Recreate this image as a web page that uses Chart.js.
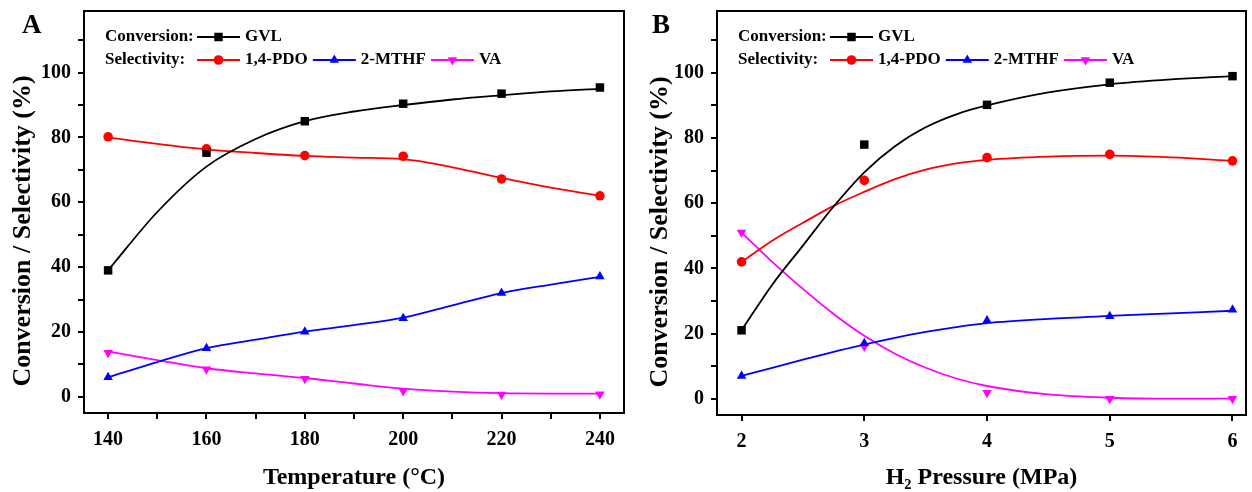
<!DOCTYPE html>
<html>
<head>
<meta charset="utf-8">
<script src="https://cdn.jsdelivr.net/npm/chart.js@4.4.1/dist/chart.umd.min.js"></script>
<style>
  html, body { margin: 0; padding: 0; background: #fff; }
  #wrap { position: relative; width: 1252px; height: 492px; }
  .panel { position: absolute; top: 0; height: 492px; }
  #panelA { left: 0; width: 630px; }
  #panelB { left: 630px; width: 622px; }
</style>
</head>
<body>
<div id="wrap">
  <div class="panel" id="panelA"><canvas id="chartA"></canvas></div>
  <div class="panel" id="panelB"><canvas id="chartB"></canvas></div>
</div>
<script>
// --- series names (same order in both panels) ---
const seriesNames = ['GVL', '1,4-PDO', '2-MTHF', 'VA'];
const yTitle = 'Conversion / Selectivity (%)';

// --- panel A: temperature ---
const tempA = [140, 160, 180, 200, 220, 240];
const gvlA  = [39, 75.3, 85, 90.4, 93.5, 95.4];
const pdoA  = [80.2, 76.5, 74.4, 74.2, 67.2, 62];
const mthfA = [6, 15, 20.1, 24.2, 32, 37.1];
const vaA   = [13.6, 8.5, 5.6, 1.8, 0.7, 0.8];
// smoothed curves
const tempFitA = [140, 150, 160, 170, 180, 190, 200, 210, 220, 230, 240];
const gvlFitA  = [39, 57, 71, 79.5, 85, 88, 90, 91.7, 93, 94.2, 95];
const pdoFitA  = [80, 78, 76.3, 75.2, 74.3, 73.8, 73.3, 70.8, 67.5, 64.5, 62];
const mthfFitA = [6, 10.7, 15, 17.6, 20.1, 22.1, 24.4, 28.2, 32, 34.6, 37];
const vaFitA   = [14, 11.3, 8.8, 7.2, 5.8, 4.1, 2.5, 1.6, 1.1, 1, 1];
const tempTicks = [140, 150, 160, 170, 180, 190, 200, 210, 220, 230, 240];
const tempLabels = [140, 160, 180, 200, 220, 240];

// --- panel B: H2 pressure ---
const pressB = [2, 3, 4, 5, 6];
const gvlB  = [21, 78, 90.2, 97, 99];
const pdoB  = [42, 67, 74, 75, 73];
const mthfB = [7, 17, 24, 25.3, 27.3];
const vaB   = [51, 16, 1.8, 0, 0];
const pressFitB = [2, 2.25, 2.5, 2.75, 3, 3.25, 3.5, 3.75, 4, 4.5, 5, 5.5, 6];
const gvlFitB  = [21, 35, 47, 59, 69.5, 77.5, 83.3, 87.3, 90, 94, 96.5, 98, 99];
const pdoFitB  = [42, 48.5, 54, 59.2, 63.5, 67.4, 70.3, 72.2, 73.3, 74.3, 74.6, 74.1, 73];
const mthfFitB = [7, 9.5, 12, 14.4, 16.6, 18.7, 20.5, 22, 23.2, 24.5, 25.4, 26.2, 27];
const vaFitB   = [51, 42, 33.7, 26, 19.3, 13.8, 9.5, 6.2, 3.9, 1.3, 0.3, 0, 0];
const pressTicks = [2, 3, 4, 5, 6];

// --- y axis (shared) ---
const yTicks  = [0, 10, 20, 30, 40, 50, 60, 70, 80, 90, 100, 110];
const yLabels = [0, 20, 40, 60, 80, 100];

// --- styles ---
const SERIF = '"Liberation Serif", "Times New Roman", Times, serif';
const COLORS = ['#000000', '#ff0000', '#0000ff', '#ff00ff'];
const MARKERS = ['rect', 'circle', 'triangle', 'triangle'];
const MARKER_ROT = [0, 0, 0, 180];
const MARKER_R = [6, 4.8, 5.5, 5.5];

function drawMarker(ctx, i, x, y) {
     const r = MARKER_R[i];
     ctx.fillStyle = COLORS[i];
     ctx.beginPath();
     if (MARKERS[i] === 'rect') {
          const s = r * Math.SQRT1_2;
          ctx.rect(x - s, y - s, 2 * s, 2 * s);
     } else if (MARKERS[i] === 'circle') {
          ctx.arc(x, y, r, 0, Math.PI * 2);
     } else {
          let rad = MARKER_ROT[i] * Math.PI / 180;
          for (let k = 0; k < 3; k++) {
               const px = x + Math.sin(rad) * r, py = y - Math.cos(rad) * r;
               if (k === 0) ctx.moveTo(px, py); else ctx.lineTo(px, py);
               rad += Math.PI * 2 / 3;
          }
          ctx.closePath();
     }
     ctx.fill();
}

// frame, in-plot legend, y title and panel letter
const decorPlugin = {
     id: 'decor',
     beforeDatasetsDraw(chart) {
          const { ctx, chartArea: a } = chart;
          ctx.save();
          ctx.strokeStyle = '#000';
          ctx.lineWidth = 2;
          ctx.strokeRect(a.left, a.top, a.right - a.left, a.bottom - a.top);
          ctx.restore();
     },
     afterDraw(chart) {
          const { ctx, chartArea: a } = chart;
          const o = chart.options.plugins.decor;
          ctx.save();
          ctx.textBaseline = 'middle';
          ctx.font = 'bold 17px ' + SERIF;
          const x0 = a.left + 21;
          const rows = [
               { label: 'Conversion:', items: [0], y: a.top + 26 },
               { label: 'Selectivity:', items: [1, 2, 3], y: a.top + 49 }
          ];
          rows.forEach(row => {
               ctx.fillStyle = '#000';
               ctx.fillText(row.label, x0, row.y);
               let x = x0 + 92;
               row.items.forEach(i => {
                    ctx.strokeStyle = COLORS[i];
                    ctx.lineWidth = 2;
                    ctx.beginPath();
                    ctx.moveTo(x, row.y);
                    ctx.lineTo(x + 43, row.y);
                    ctx.stroke();
                    drawMarker(ctx, i, x + 21.5, row.y);
                    ctx.fillStyle = '#000';
                    ctx.fillText(seriesNames[i], x + 48, row.y);
                    x += 48 + ctx.measureText(seriesNames[i]).width + 5;
               });
          });
          // panel letter
          ctx.font = 'bold 27px ' + SERIF;
          ctx.fillStyle = '#000';
          ctx.fillText(o.letter, 22, 26);
          // y axis title, a bit below the axis centre as in the figure
          ctx.translate(o.yTitleX, (a.top + a.bottom) / 2 + 19);
          ctx.rotate(-Math.PI / 2);
          ctx.textAlign = 'center';
          ctx.font = 'bold 26px ' + SERIF;
          ctx.fillText(yTitle, 0, 0);
          ctx.restore();
     }
};

function buildChart(canvasId, cfg) {
     const tickFont = { family: SERIF, size: 20, weight: 'bold' };
     const datasets = [];
     cfg.fits.forEach((fit, i) => {
          datasets.push({
               data: cfg.fitX.map((x, k) => ({ x: x, y: fit[k] })),
               showLine: true,
               borderColor: COLORS[i],
               borderWidth: 1.8,
               pointRadius: 0,
               cubicInterpolationMode: 'monotone',
               fill: false
          });
     });
     cfg.points.forEach((pts, i) => {
          datasets.push({
               data: cfg.x.map((x, k) => ({ x: x, y: pts[k] })),
               showLine: false,
               pointStyle: MARKERS[i],
               rotation: MARKER_ROT[i],
               pointRadius: MARKER_R[i],
               backgroundColor: COLORS[i],
               borderColor: COLORS[i],
               borderWidth: 0
          });
     });

     const gridOpts = { drawOnChartArea: false, drawTicks: true, tickLength: 6, color: '#000', lineWidth: 2 };
     const borderOpts = { display: true, color: '#000', width: 2 };

     return new Chart(document.getElementById(canvasId), {
          type: 'scatter',
          data: { datasets: datasets },
          options: {
               responsive: true,
               maintainAspectRatio: false,
               animation: false,
               layout: { padding: { top: 11, right: cfg.padRight, left: 0, bottom: 0 } },
               plugins: {
                    legend: { display: false },
                    tooltip: { enabled: false },
                    decor: { letter: cfg.letter, yTitleX: cfg.yTitleX }
               },
               scales: {
                    x: {
                         type: 'linear',
                         min: cfg.xMin,
                         max: cfg.xMax,
                         afterBuildTicks: s => { s.ticks = cfg.xTicks.map(v => ({ value: v })); },
                         afterFit: s => {
                              s.height = cfg.xAxisHeight;
                              s.paddingLeft = 0;
                              s.paddingRight = 0;
                         },
                         ticks: {
                              autoSkip: false,
                              maxRotation: 0,
                              padding: 9,
                              color: '#000',
                              font: tickFont,
                              callback: v => cfg.xLabels.includes(v) ? String(v) : ''
                         },
                         grid: gridOpts,
                         border: borderOpts,
                         title: {
                              display: true, text: cfg.xTitle, color: '#000',
                              font: { family: SERIF, size: 24, weight: 'bold' },
                              padding: { top: 0, bottom: 0 }
                         }
                    },
                    y: {
                         type: 'linear',
                         min: -5,
                         max: 119,
                         afterBuildTicks: s => { s.ticks = yTicks.map(v => ({ value: v })); },
                         afterFit: s => {
                              s.width = cfg.yAxisWidth;
                              s.paddingTop = 0;
                              s.paddingBottom = 0;
                         },
                         ticks: {
                              autoSkip: false,
                              padding: 7,
                              color: '#000',
                              font: tickFont,
                              callback: v => yLabels.includes(v) ? String(v) : ''
                         },
                         grid: gridOpts,
                         border: borderOpts,
                         title: { display: false }
                    }
               }
          },
          plugins: [decorPlugin]
     });
}

buildChart('chartA', {
     letter: 'A',
     x: tempA,
     points: [gvlA, pdoA, mthfA, vaA],
     fitX: tempFitA,
     fits: [gvlFitA, pdoFitA, mthfFitA, vaFitA],
     xMin: 135.1, xMax: 244.9,
     xTicks: tempTicks, xLabels: tempLabels,
     xTitle: 'Temperature (°C)',
     yAxisWidth: 84, xAxisHeight: 79, padRight: 4, yTitleX: 23
});

buildChart('chartB', {
     letter: 'B',
     x: pressB,
     points: [gvlB, pdoB, mthfB, vaB],
     fitX: pressFitB,
     fits: [gvlFitB, pdoFitB, mthfFitB, vaFitB],
     xMin: 1.8, xMax: 6.11,
     xTicks: pressTicks, xLabels: pressTicks,
     xTitle: 'H\u2082 Pressure (MPa)',
     yAxisWidth: 87, xAxisHeight: 77, padRight: 2, yTitleX: 30
});
</script>
</body>
</html>
